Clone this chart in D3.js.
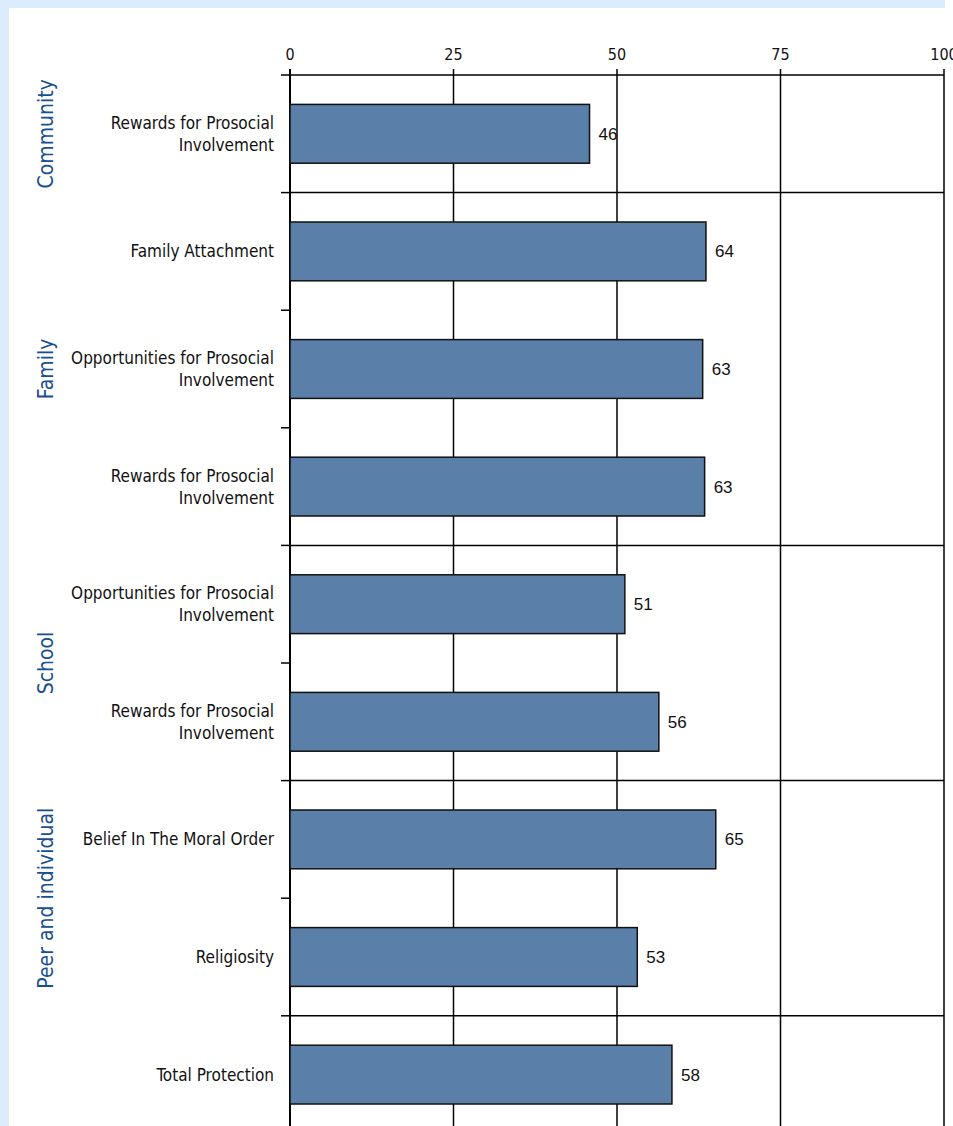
<!DOCTYPE html>
<html>
<head>
<meta charset="utf-8">
<style>
body { margin: 0; background: #fff; }
svg { display: block; }
.cat { font-family: "Liberation Sans Narrow", "DejaVu Sans Condensed", sans-serif; font-size: 17px; fill: #111; }
.grp { font-family: "Liberation Sans Narrow", "DejaVu Sans Condensed", sans-serif; font-size: 21px; fill: #17508e; }
.tick-label { font-family: "Liberation Sans Narrow", "DejaVu Sans Condensed", sans-serif; font-size: 16px; fill: #111; }
.val { font-family: "Liberation Sans", Arial, sans-serif; font-size: 17px; fill: #111; }
</style>
</head>
<body>
<svg width="953" height="1126"></svg>
<script src="https://cdn.jsdelivr.net/npm/d3@7"></script>
<script>
// data
var categories = [
  ["Rewards for Prosocial", "Involvement"],
  ["Family Attachment"],
  ["Opportunities for Prosocial", "Involvement"],
  ["Rewards for Prosocial", "Involvement"],
  ["Opportunities for Prosocial", "Involvement"],
  ["Rewards for Prosocial", "Involvement"],
  ["Belief In The Moral Order"],
  ["Religiosity"],
  ["Total Protection"]
];
var values = [45.8, 63.6, 63.1, 63.4, 51.2, 56.4, 65.1, 53.1, 58.4];
var groupNames = ["Community", "Family", "School", "Peer and individual"];
var groupStart = [0, 1, 4, 6];   // first category of each group
var groupEnd = [0, 3, 5, 7];     // last category of each group
var xTicks = [0, 25, 50, 75, 100];

var svg = d3.select("svg"),
    margin = {top: 75, left: 290},
    width = 654,
    step = 117.6,
    height = step * categories.length;

// light blue frame
svg.append("rect").attr("x", 0).attr("y", 0).attr("width", 945).attr("height", 8).attr("fill", "#dbedfc");
svg.append("rect").attr("x", 0).attr("y", 0).attr("width", 9).attr("height", 1126).attr("fill", "#dbedfc");

var g = svg.append("g").attr("transform", "translate(" + margin.left + "," + margin.top + ")");

var x = d3.scaleLinear().domain([0, 100]).range([0, width]);
var y = d3.scaleBand()
    .domain(d3.range(categories.length))
    .range([0, height])
    .paddingInner(0.5)
    .paddingOuter(0.25);

function edge(i) { return y(i) - y.step() * 0.25; }

// vertical grid lines
g.selectAll(".vgrid")
  .data(xTicks)
  .enter().append("line")
    .attr("x1", function(d) { return x(d); })
    .attr("x2", function(d) { return x(d); })
    .attr("y1", -6)
    .attr("y2", height)
    .attr("stroke", "#000")
    .attr("stroke-width", function(d) { return d === 0 ? 2 : 1.5; });

// top axis labels
g.selectAll(".tick-label")
  .data(xTicks)
  .enter().append("text")
    .attr("class", "tick-label")
    .attr("x", function(d) { return x(d); })
    .attr("y", -15)
    .attr("text-anchor", "middle")
    .text(function(d) { return d; });

// left ticks at each band edge
g.selectAll(".ytick")
  .data(d3.range(categories.length))
  .enter().append("line")
    .attr("x1", -9)
    .attr("x2", 0)
    .attr("y1", function(d) { return edge(d); })
    .attr("y2", function(d) { return edge(d); })
    .attr("stroke", "#000")
    .attr("stroke-width", 1.5);

// horizontal lines at group boundaries
var hlines = groupStart.concat([categories.length - 1]);
g.selectAll(".hgrid")
  .data(hlines)
  .enter().append("line")
    .attr("x1", 0)
    .attr("x2", width)
    .attr("y1", function(d) { return edge(d); })
    .attr("y2", function(d) { return edge(d); })
    .attr("stroke", "#000")
    .attr("stroke-width", 1.5);

// bars
g.selectAll(".bar")
  .data(values)
  .enter().append("rect")
    .attr("class", "bar")
    .attr("x", 0)
    .attr("y", function(d, i) { return y(i); })
    .attr("width", function(d) { return x(d); })
    .attr("height", y.bandwidth())
    .attr("fill", "#5a7fa8")
    .attr("stroke", "#111")
    .attr("stroke-width", 1.5);

// value labels
g.selectAll(".val")
  .data(values)
  .enter().append("text")
    .attr("class", "val")
    .attr("x", function(d) { return x(d) + 9; })
    .attr("y", function(d, i) { return y(i) + y.bandwidth() / 2; })
    .attr("dy", "0.35em")
    .text(function(d) { return Math.round(d); });

// category labels
var cat = g.selectAll(".cat")
  .data(categories)
  .enter().append("text")
    .attr("class", "cat")
    .attr("text-anchor", "end")
    .attr("x", -16)
    .attr("y", function(d, i) { return y(i) + y.bandwidth() / 2; });

cat.selectAll("tspan")
  .data(function(d) { return d.map(function(t, j) { return {t: t, j: j, n: d.length}; }); })
  .enter().append("tspan")
    .attr("x", -16)
    .attr("dy", function(d) { return d.j === 0 ? (0.35 - (d.n - 1) * 0.65) + "em" : "1.3em"; })
    .text(function(d) { return d.t; });

// group labels, rotated
g.selectAll(".grp")
  .data(groupNames)
  .enter().append("text")
    .attr("class", "grp")
    .attr("text-anchor", "middle")
    .attr("transform", function(d, i) {
      var cy = (edge(groupStart[i]) + edge(groupEnd[i] + 1)) / 2;
      return "translate(" + (-237) + "," + cy + ") rotate(-90)";
    })
    .text(function(d) { return d; });
</script>
</body>
</html>
